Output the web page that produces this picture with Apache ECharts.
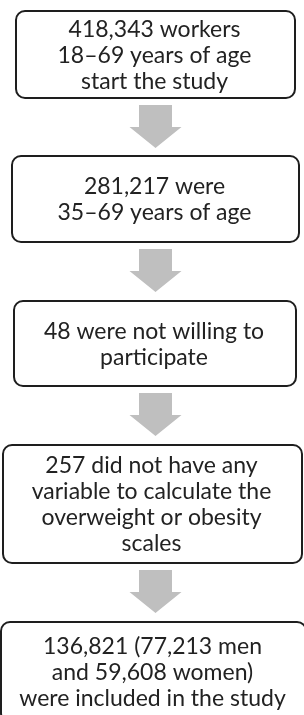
<!DOCTYPE html>
<html>
<head>
<meta charset="UTF-8">
<title>Flow of participants</title>
<style type="text/css">
	html, body { margin: 0; padding: 0; background: #fff; }
	#flow-chart { width: 304px; height: 715px; }
</style>
</head>
<body>
<div id="flow-chart"></div>
<script src="https://cdn.jsdelivr.net/npm/echarts@6/dist/echarts.min.js"></script>
<script type="text/javascript">
// text of each step, one entry per line
var steps = [
	['418,343 workers', '18–69 years of age', 'start the study'],
	['281,217 were', '35–69 years of age'],
	['48 were not willing to', 'participate'],
	['257 did not have any', 'variable to calculate the', 'overweight or obesity', 'scales'],
	['136,821 (77,213 men', 'and 59,608 women)', 'were included in the study']
];

// layout of the boxes, in axis units (axes run 0..304 and 0..715)
var boxTop = [11, 156, 301, 445, 622];
var boxBottom = [98, 242, 386, 563, 722];
var boxLeft = [16, 12, 14, 3, 1];
var boxRight = [295, 299, 296, 302, 306];

var myChart = echarts.init(document.getElementById('flow-chart'));

function renderBox(params, api) {
	var i = api.value(0);
	var p0 = api.coord([boxLeft[i], boxTop[i]]);
	var p1 = api.coord([boxRight[i], boxBottom[i]]);
	return {
		type: 'group',
		children: [{
			type: 'rect',
			shape: { x: p0[0], y: p0[1], width: p1[0] - p0[0], height: p1[1] - p0[1], r: 9 },
			style: { fill: '#fff', stroke: '#1e1e1e', lineWidth: 2 }
		}, {
			type: 'text',
			style: {
				text: steps[i].join('\n'),
				x: (p0[0] + p1[0]) / 2 - 1,
				y: (p0[1] + p1[1]) / 2 + 1,
				align: 'center',
				verticalAlign: 'middle',
				fontFamily: 'Lato',
				fontSize: 23,
				lineHeight: 26,
				fill: '#222'
			}
		}]
	};
}

function renderArrow(params, api) {
	var i = api.value(0);
	var cx = 155.5;
	var y0 = boxBottom[i] + 7;
	var y1 = boxBottom[i] + 29;
	var y2 = boxBottom[i] + 50;
	var pts = [
		[cx - 16.5, y0], [cx + 16.5, y0], [cx + 16.5, y1], [cx + 26, y1],
		[cx, y2], [cx - 26, y1], [cx - 16.5, y1]
	].map(function (p) { return api.coord(p); });
	return {
		type: 'polygon',
		shape: { points: pts },
		style: { fill: '#bfbfbf' }
	};
}

var option = {
	animation: false,
	grid: { left: 0, right: 0, top: 0, bottom: 0 },
	xAxis: { type: 'value', min: 0, max: 304, show: false },
	yAxis: { type: 'value', min: 0, max: 715, inverse: true, show: false },
	series: [{
		type: 'custom',
		renderItem: renderArrow,
		data: steps.slice(0, -1).map(function (s, i) { return [i, 0]; })
	}, {
		type: 'custom',
		renderItem: renderBox,
		data: steps.map(function (s, i) { return [i, 0]; })
	}]
};
myChart.setOption(option);
</script>
</body>
</html>
